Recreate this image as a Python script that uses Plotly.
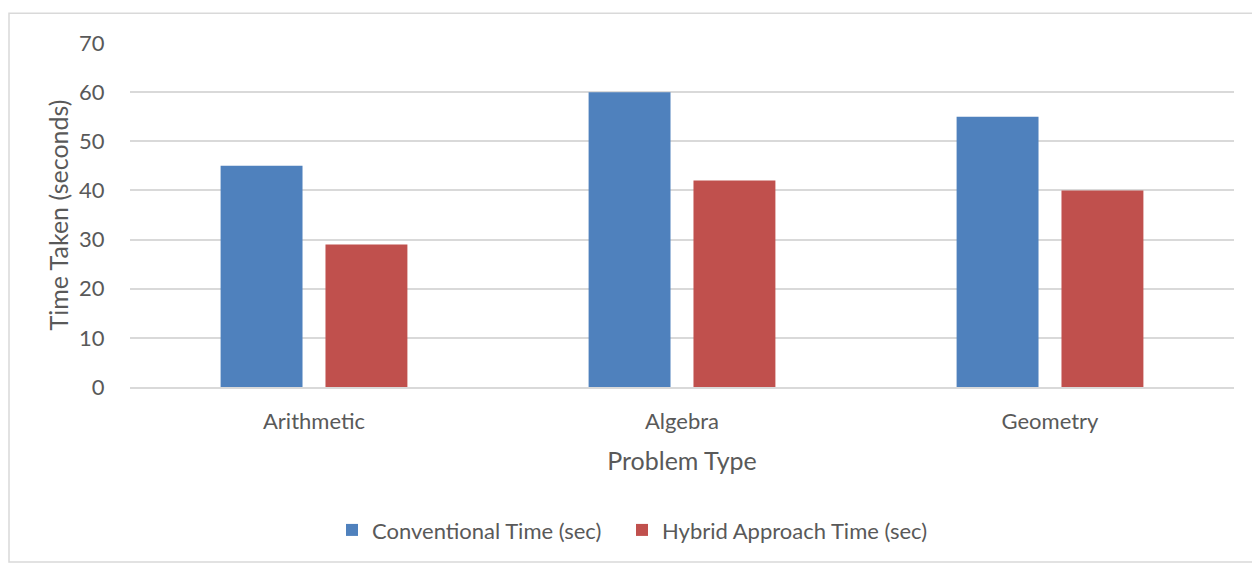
import plotly.graph_objects as go

categories = ["Arithmetic", "Algebra", "Geometry"]
conventional = [45, 60, 55]
hybrid = [29, 42, 40]
series_names = ["Conventional Time (sec)", "Hybrid Approach Time (sec)"]
y_ticks = [0, 10, 20, 30, 40, 50, 60, 70]

W, H = 1252, 563
ml, mr, mt, mb = 130, 18, 43, 172
pw, ph = W - ml - mr, H - mt - mb

FONT = "Lato"
TXT = "#595959"
GRID = "#D9D9D9"

fig = go.Figure()
fig.add_trace(go.Bar(name=series_names[0], x=categories, y=conventional, legend="legend",
                     marker=dict(color="#4F81BD", line=dict(width=0))))
fig.add_trace(go.Bar(name=series_names[1], x=categories, y=hybrid, legend="legend2",
                     marker=dict(color="#C0504D", line=dict(width=0))))

# chart border (paper coordinates relative to plot area)
x0 = (9 - ml) / pw
y1 = 1 + (mt - 13) / ph
fig.add_shape(type="rect", xref="paper", yref="paper",
              x0=x0, x1=(W + 5 - ml) / pw, y0=-(mb + 5) / ph, y1=y1,
              line=dict(color=GRID, width=1.5), fillcolor="rgba(0,0,0,0)", layer="below")

leg_common = dict(orientation="h", xanchor="left", y=-0.355, yanchor="top",
                  font=dict(family=FONT, size=22, color=TXT), itemwidth=30,
                  bgcolor="rgba(0,0,0,0)")

fig.update_layout(
    width=W, height=H,
    margin=dict(l=ml, r=mr, t=mt, b=mb),
    paper_bgcolor="white", plot_bgcolor="white",
    barmode="group", bargap=0.43, bargroupgap=0.219,
    font=dict(family=FONT, color=TXT, size=22),
    showlegend=True,
    legend=dict(x=(332 - ml) / pw, **leg_common),
    legend2=dict(x=(622 - ml) / pw, **leg_common),
    xaxis=dict(showgrid=False, showline=True, linecolor=GRID, linewidth=2,
               ticks="", tickfont=dict(size=22, color=TXT), ticklabelstandoff=14,
               title=dict(text="Problem Type", font=dict(size=25, color=TXT), standoff=19)),
    yaxis=dict(range=[0, 70], tickvals=y_ticks, showgrid=True, gridcolor=GRID, gridwidth=1.5,
               zeroline=False, showline=False, ticks="outside", ticklen=20, tickcolor="white",
               tickfont=dict(size=22, color=TXT),
               title=dict(text="Time Taken (seconds)", font=dict(size=25, color=TXT), standoff=3)),
)

fig.write_html("out.html")
